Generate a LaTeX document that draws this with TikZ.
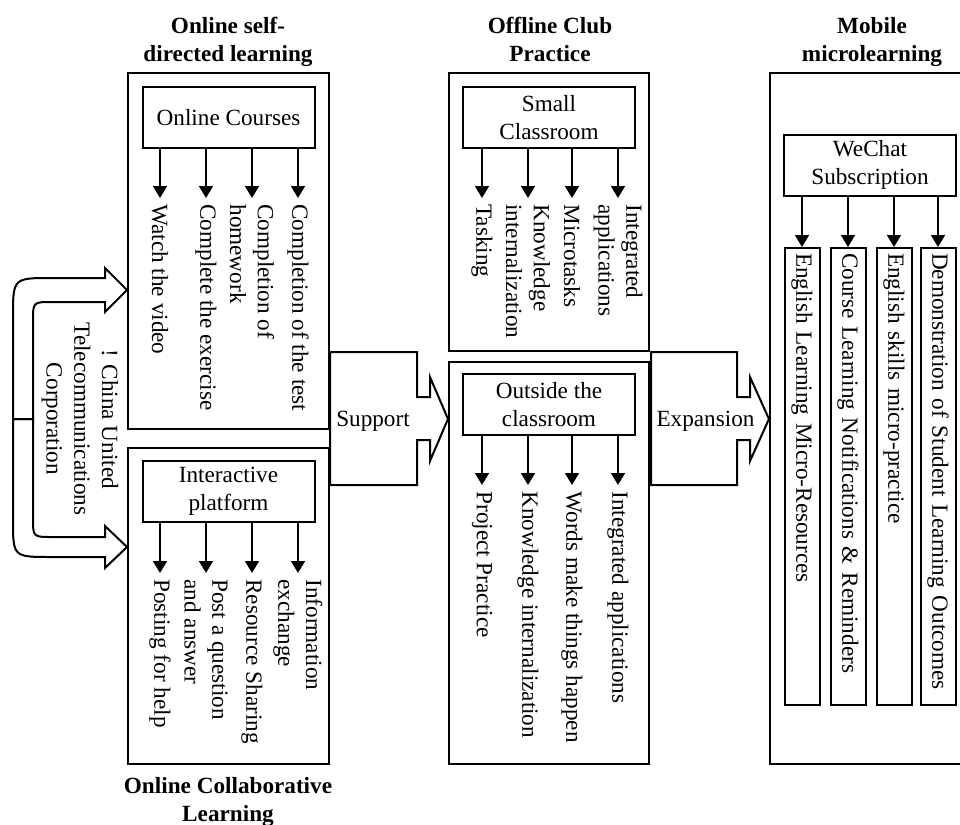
\documentclass[tikz,border=0pt]{standalone}
\usepackage{fontspec}
\setmainfont{Liberation Serif}
\usetikzlibrary{arrows.meta,positioning}

\begin{document}
\begin{tikzpicture}[
  x=0.5pt,y=-0.5pt,
  every node/.style={font=\fontsize{11.6}{13.9}\selectfont},
  heading/.style={font=\fontsize{11.6}{13.9}\selectfont\bfseries,align=center,anchor=north,inner sep=0pt},
  panel/.style={draw,line width=1pt,inner sep=0pt},
  topic/.style={draw,line width=1pt,minimum width=86pt,minimum height=30.5pt,align=center,inner sep=2pt},
  item/.style={rotate=-90,anchor=west,align=left,inner sep=3pt},
  strip/.style={item,draw,line width=1pt,text width=223.5pt,minimum height=17.5pt,inner sep=2.5pt},
  arrow/.style={-{Triangle[length=6pt,width=7pt]},line width=0.9pt},
  bigarrow/.style={draw,line width=1pt,line join=miter}
]
\useasboundingbox (0,0) rectangle (960,825);

% the five frames
\node[panel,minimum width=100.5pt,minimum height=178pt] (osl) at (228.5,251) {};
\node[panel,minimum width=100.5pt,minimum height=158pt] (ocl) at (228.5,606) {};
\node[panel,minimum width=100pt,minimum height=139pt] (scb) at (549,212) {};
\node[panel,minimum width=100pt,minimum height=201pt] (ocb) at (549,563) {};
\node[panel,minimum width=96pt,minimum height=345.5pt] (mmb) at (866,418.5) {};

\node[heading] (osltitle) at (228,17) {Online self-\\directed learning};
\node[heading] (scbtitle) at (550,17) {Offline Club\\Practice};
\node[heading] (mmbtitle) at (872,17) {Mobile\\microlearning};
\node[heading] (ocltitle) at (228,777) {Online Collaborative\\Learning};

% sources
\node[topic,below=7pt of osl.north] (courses) {Online Courses};
\node[topic,below=6.5pt of ocl.north] (platform) {Interactive\\platform};
\node[topic,below=7pt of scb.north] (small) {Small\\Classroom};
\node[topic,below=6pt of ocb.north] (outside) {Outside the\\classroom};
\node[topic] (wechat) at (870,165) {WeChat\\Subscription};

% activities
\node[item] (c1) at (160,198) {Watch the video};
\node[item] (c2) at (206,198) {Complete the exercise};
\node[item] (c3) at (252,198) {Completion of\\homework};
\node[item] (c4) at (298,198) {Completion of the test};

\node[item] (p1) at (160,573) {Posting for help};
\node[item] (p2) at (206,573) {Post a question\\and answer};
\node[item] (p3) at (252,573) {Resource Sharing};
\node[item] (p4) at (298,573) {Information\\exchange};

\node[item] (s1) at (482,198) {Tasking};
\node[item] (s2) at (528,198) {Knowledge\\internalization};
\node[item] (s3) at (572,198) {Microtasks};
\node[item] (s4) at (618,198) {Integrated\\applications};

\node[item] (o1) at (482,485) {Project Practice};
\node[item] (o2) at (528,485) {Knowledge internalization};
\node[item] (o3) at (572,485) {Words make things happen};
\node[item] (o4) at (618,485) {Integrated applications};

\node[strip] (w1) at (802,247) {English Learning Micro-Resources};
\node[strip] (w2) at (848,247) {Course Learning Notifications \& Reminders};
\node[strip] (w3) at (894,247) {English skills micro-practice};
\node[strip] (w4) at (938,247) {Demonstration of Student Learning Outcomes};

\foreach \i in {1,...,4} {
  \draw[arrow] (courses.south -| c\i.west) -- (c\i.west);
  \draw[arrow] (platform.south -| p\i.west) -- (p\i.west);
  \draw[arrow] (small.south -| s\i.west) -- (s\i.west);
  \draw[arrow] (outside.south -| o\i.west) -- (o\i.west);
  \draw[arrow] (wechat.south -| w\i.west) -- (w\i.west);
}

% block arrows between the columns
\draw[bigarrow] (330,352) -- (417,352) -- (417,397) -- (430,397) -- (430,377) -- (448,419)
  -- (430,461) -- (430,440) -- (417,440) -- (417,485) -- (330,485) -- cycle;
\node (support) at (373,421) {Support};
\draw[bigarrow] (651,352) -- (737,352) -- (737,397) -- (750,397) -- (750,377) -- (769,419)
  -- (750,461) -- (750,440) -- (737,440) -- (737,485) -- (651,485) -- cycle;
\node (expansion) at (705.5,421) {Expansion};

% feeding arrow on the left
\draw[bigarrow] (13,419) -- (13,317) .. controls (13,278) .. (52,278) -- (105,278) -- (105,268)
  -- (127,290) -- (105,312) -- (105,302) -- (52,302) .. controls (33,302) .. (33,321) -- (33,419) -- cycle;
\draw[bigarrow] (13,419) -- (13,519) .. controls (13,557) .. (51,557) -- (105,557) -- (105,568)
  -- (127,547) -- (105,526) -- (105,537) -- (52,537) .. controls (33,537) .. (33,518) -- (33,419) -- cycle;
\node[rotate=-90,align=center] (unicom) at (80,419) {! China United\\Telecommunications\\Corporation};
\end{tikzpicture}
\end{document}
